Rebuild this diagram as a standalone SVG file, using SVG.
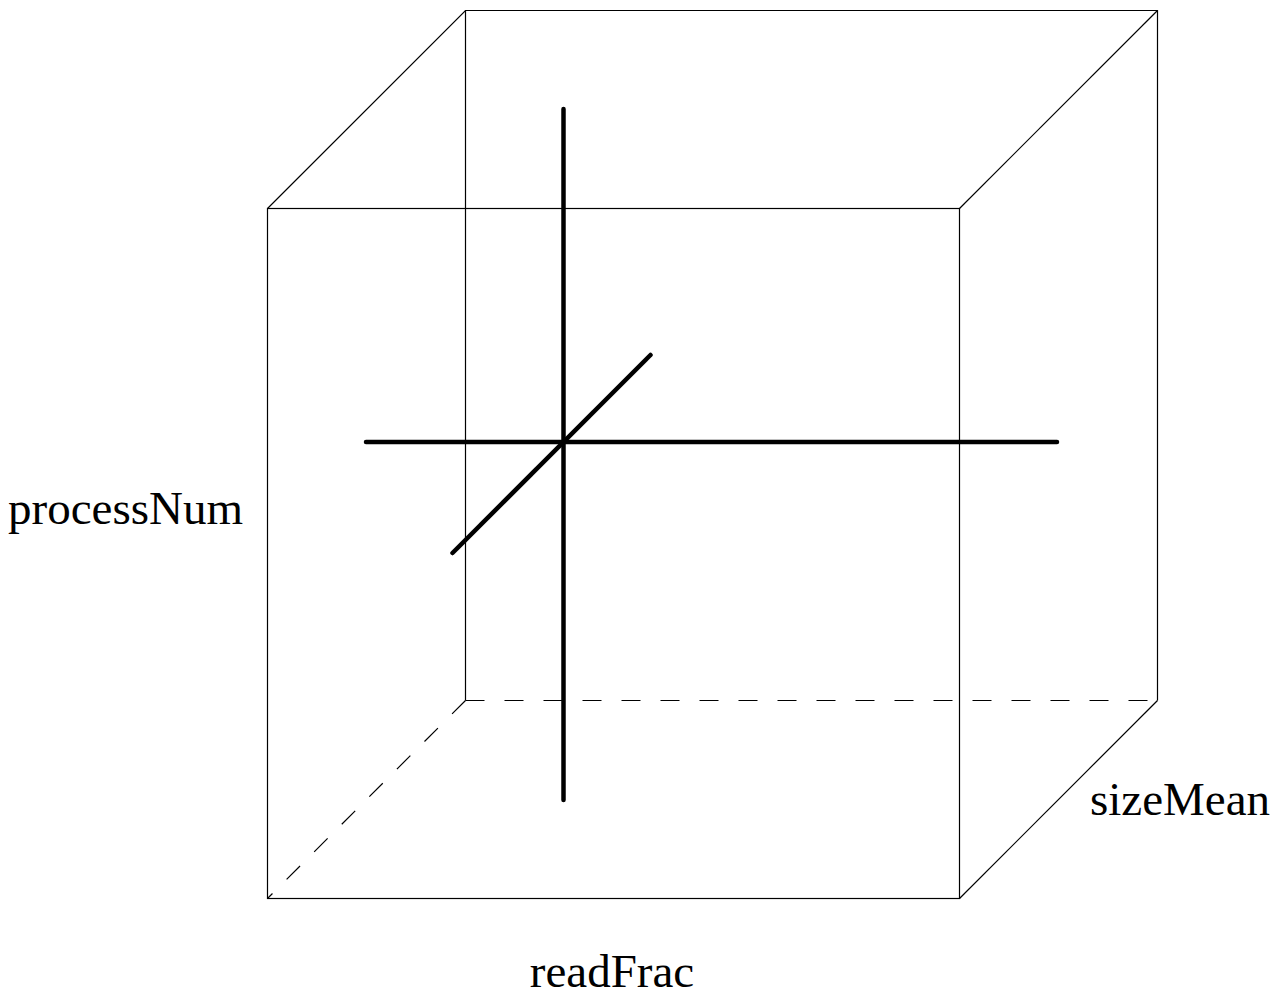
<svg xmlns="http://www.w3.org/2000/svg" width="1286" height="996" viewBox="0 0 1286 996">
<style>
.edge{stroke:#000;stroke-width:1.2;fill:none}
.dash{stroke:#000;stroke-width:1.2;fill:none;stroke-dasharray:19 20}
.axis{stroke:#000;stroke-width:4.5;stroke-linecap:round;fill:none}
.lbl{font-family:"Liberation Serif","Times New Roman",serif;font-size:47px;fill:#000}
</style>
<rect width="1286" height="996" fill="#fff"/>
<g id="connectors">
<g id="cube">
<rect class="edge" x="267.5" y="208.5" width="692" height="690"/>
<polyline class="edge" points="267.5,208.5 465.5,10.5 1157.5,10.5 1157.5,700.5"/>
<line class="edge" x1="959.5" y1="208.5" x2="1157.5" y2="10.5"/>
<line class="edge" x1="959.5" y1="898.5" x2="1157.5" y2="700.5"/>
<line class="edge" x1="465.5" y1="10.5" x2="465.5" y2="700.5"/>
<line class="dash" x1="465.5" y1="700.5" x2="1157.5" y2="700.5"/>
<line class="dash" x1="465.5" y1="700.5" x2="267.5" y2="898.5"/>
</g>
<g id="axes">
<line class="axis" x1="563.5" y1="109" x2="563.5" y2="800"/>
<line class="axis" x1="366" y1="442" x2="1057" y2="442"/>
<line class="axis" x1="452.5" y1="553" x2="650.5" y2="355"/>
</g>
</g>
<g id="processNum"><text class="lbl" x="125.5" y="524" text-anchor="middle">processNum</text></g>
<g id="sizeMean"><text class="lbl" x="1180" y="815" text-anchor="middle">sizeMean</text></g>
<g id="readFrac"><text class="lbl" x="612" y="987" text-anchor="middle">readFrac</text></g>
</svg>
